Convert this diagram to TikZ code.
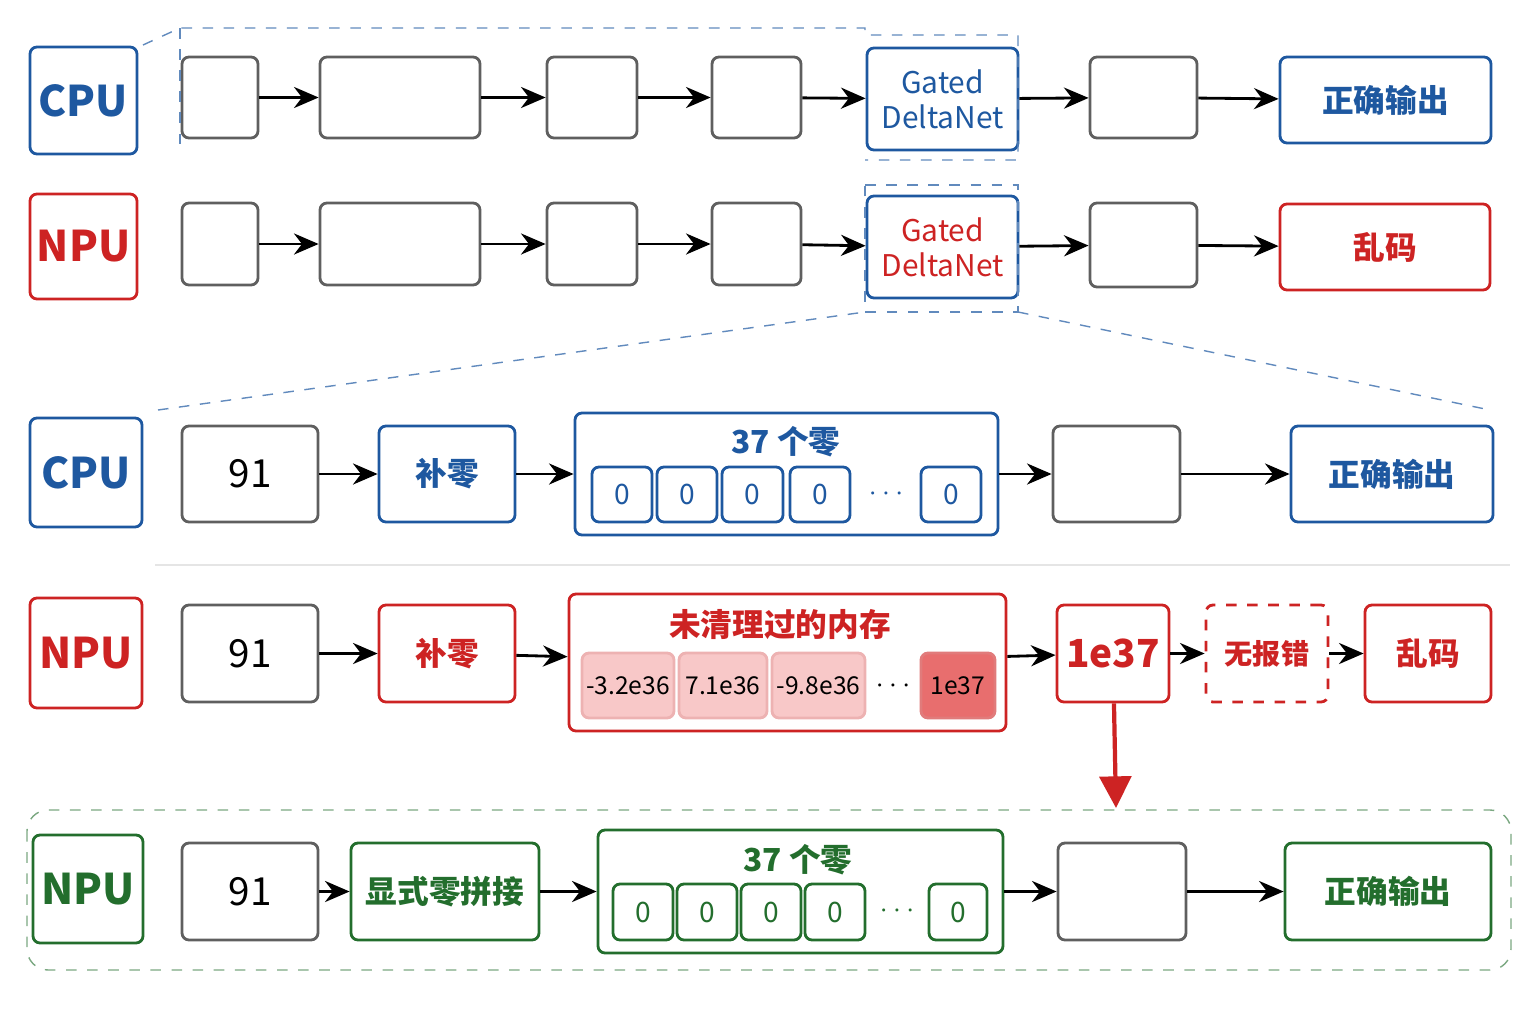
\documentclass[tikz,border=0pt]{standalone}
\usepackage{fontspec}
\setmainfont{Noto Sans CJK SC}
\usetikzlibrary{arrows.meta}
\definecolor{cblue}{RGB}{30,88,160}
\definecolor{cred}{RGB}{205,35,35}
\definecolor{cgreen}{RGB}{35,110,45}
\definecolor{cgray}{RGB}{95,95,95}
\definecolor{cpink}{RGB}{248,200,200}
\definecolor{cdeep}{RGB}{232,110,110}
% box from pixel corners
\newcommand\bx[7][]{\node[box,#1,minimum width={(#5-#3)*0.01cm},minimum height={(#6-#4)*0.01cm}] (#2) at ({(#3+#5)/2},{(#4+#6)/2}) {#7};}
\tikzset{
  box/.style={draw=cgray,thick,rounded corners=2pt,inner sep=0pt,align=center,font=\bfseries},
  bluebox/.style={draw=cblue,text=cblue},
  redbox/.style={draw=cred,text=cred},
  greenbox/.style={draw=cgreen,text=cgreen},
  tag/.style={font=\bfseries\fontsize{12}{13}\selectfont},
  cn/.style={font=\bfseries\fontsize{9}{10}\selectfont},
  gated/.style={font=\fontsize{8.5}{10}\selectfont},
  num/.style={font=\fontsize{11}{12}\selectfont},
  cell/.style={font=\fontsize{8}{9}\selectfont},
  mem/.style={draw=cred!35,fill=cpink,font=\fontsize{7}{8}\selectfont},
  arr/.style={-{Stealth[length=7pt,width=6pt]},thick,black},
  link/.style={draw=cblue!70,dashed,thin}
}
\begin{document}
\begin{tikzpicture}[x=0.01cm,y=-0.01cm]
\useasboundingbox (0,0) rectangle (1536,1024);
% top rows
\bx[bluebox,tag]{cpuA}{30}{47}{137}{154}{CPU}
\bx{a1}{182}{57}{258}{138}{}
\bx{a2}{320}{57}{480}{138}{}
\bx{a3}{547}{57}{637}{138}{}
\bx{a4}{712}{57}{801}{138}{}
\bx[bluebox,gated]{a5}{867}{48}{1018}{150}{Gated\\DeltaNet}
\bx{a6}{1090}{57}{1197}{138}{}
\bx[bluebox,cn]{a7}{1280}{57}{1491}{143}{正确输出}
\bx[redbox,tag]{npuA}{30}{194}{137}{299}{NPU}
\bx{b1}{182}{203}{258}{285}{}
\bx{b2}{320}{203}{480}{285}{}
\bx[]{b3}{547}{203}{637}{285}{}
\bx{b4}{712}{203}{801}{285}{}
\bx[draw=cblue,text=cred,gated]{b5}{867}{196}{1018}{298}{Gated\\DeltaNet}
\bx{b6}{1090}{203}{1197}{287}{}
\bx[redbox,cn]{b7}{1280}{204}{1490}{290}{乱码}
\foreach \i [evaluate=\i as \j using int(\i+1)] in {1,...,6}{
  \draw[arr] (a\i) -- (a\j);
  \draw[arr] (b\i) -- (b\j);
}
% dashed outlines of the top rows
\draw[link] (143,45) -- (180,28) -- (865,28) -- (865,35) -- (1018,35) -- (1018,160) -- (865,160);
\draw[link] (180,28) -- (180,150);
\draw[link] (865,185) -- (1018,185) -- (1018,312) -- (865,312) -- cycle;
\draw[link] (158,410) -- (865,312);
\draw[link] (1018,312) -- (1490,410);
% middle CPU row
\bx[bluebox,tag]{cpuB}{30}{418}{142}{527}{CPU}
\bx[num]{c1}{182}{426}{318}{522}{91}
\bx[bluebox,cn]{c2}{379}{426}{515}{522}{补零}
\bx[bluebox]{c3}{575}{413}{998}{535}{}
\node[cn,text=cblue] (c3t) at (786,442) {37 个零};
\bx[bluebox,cell]{z1}{592}{467}{652}{522}{0}
\bx[bluebox,cell]{z2}{657}{467}{717}{522}{0}
\bx[bluebox,cell]{z3}{722}{467}{783}{522}{0}
\bx[bluebox,cell]{z4}{790}{467}{850}{522}{0}
\node[cell,text=cblue] (zd) at (886,494) {$\cdots$};
\bx[bluebox,cell]{z5}{921}{467}{981}{522}{0}
\bx{c4}{1053}{426}{1180}{522}{}
\bx[bluebox,cn]{c5}{1291}{426}{1493}{522}{正确输出}
\draw[arr] (c1) -- (c2);
\draw[arr] (c2) -- (c3);
\draw[arr] (c3) -- (c4);
\draw[arr] (c4) -- (c5);
\draw[gray!20] (155,565) -- (1510,565);
% middle NPU row
\bx[redbox,tag]{npuB}{30}{598}{142}{708}{NPU}
\bx[num]{d1}{182}{605}{318}{702}{91}
\bx[redbox,cn]{d2}{379}{605}{515}{702}{补零}
\bx[redbox]{d3}{569}{594}{1006}{731}{}
\node[cn,text=cred] (d3t) at (780,624) {未清理过的内存};
\bx[mem]{m1}{582}{653}{674}{718}{-3.2e36}
\bx[mem]{m2}{679}{653}{767}{718}{7.1e36}
\bx[mem]{m3}{772}{653}{865}{718}{-9.8e36}
\node[cell] (md) at (893,686) {$\cdots$};
\bx[mem,draw=cred!60,fill=cdeep]{m4}{921}{653}{995}{718}{1e37}
\bx[redbox,font=\bfseries\fontsize{11}{12}\selectfont]{d4}{1057}{605}{1169}{702}{1e37}
\bx[redbox,dashed,font=\bfseries\fontsize{8}{9}\selectfont]{d5}{1206}{605}{1328}{702}{无报错}
\bx[redbox,cn]{d6}{1365}{605}{1491}{702}{乱码}
\draw[arr] (d1) -- (d2);
\draw[arr] (d2) -- (d3);
\draw[arr] (d3) -- (d4);
\draw[arr] (d4) -- (d5);
\draw[arr] (d5) -- (d6);
% fixed NPU row
\draw[cgreen!60,dashed,rounded corners=6pt] (27,810) rectangle (1511,970);
\coordinate (fixtop) at (1116,808);
\draw[-{Triangle[length=9pt,width=9pt]},very thick,cred] (d4) -- (fixtop);
\bx[greenbox,tag]{npuC}{33}{835}{143}{943}{NPU}
\bx[num]{e1}{182}{843}{318}{940}{91}
\bx[greenbox,cn]{e2}{351}{843}{539}{940}{显式零拼接}
\bx[greenbox]{e3}{598}{830}{1003}{953}{}
\node[cn,text=cgreen] (e3t) at (798,860) {37 个零};
\bx[greenbox,cell]{g1}{613}{884}{673}{940}{0}
\bx[greenbox,cell]{g2}{677}{884}{737}{940}{0}
\bx[greenbox,cell]{g3}{741}{884}{801}{940}{0}
\bx[greenbox,cell]{g4}{805}{884}{865}{940}{0}
\node[cell,text=cgreen] (gd) at (897,911) {$\cdots$};
\bx[greenbox,cell]{g5}{929}{884}{987}{940}{0}
\bx{e4}{1058}{843}{1186}{940}{}
\bx[greenbox,cn]{e5}{1285}{843}{1491}{940}{正确输出}
\draw[arr] (e1) -- (e2);
\draw[arr] (e2) -- (e3);
\draw[arr] (e3) -- (e4);
\draw[arr] (e4) -- (e5);
\end{tikzpicture}
\end{document}
